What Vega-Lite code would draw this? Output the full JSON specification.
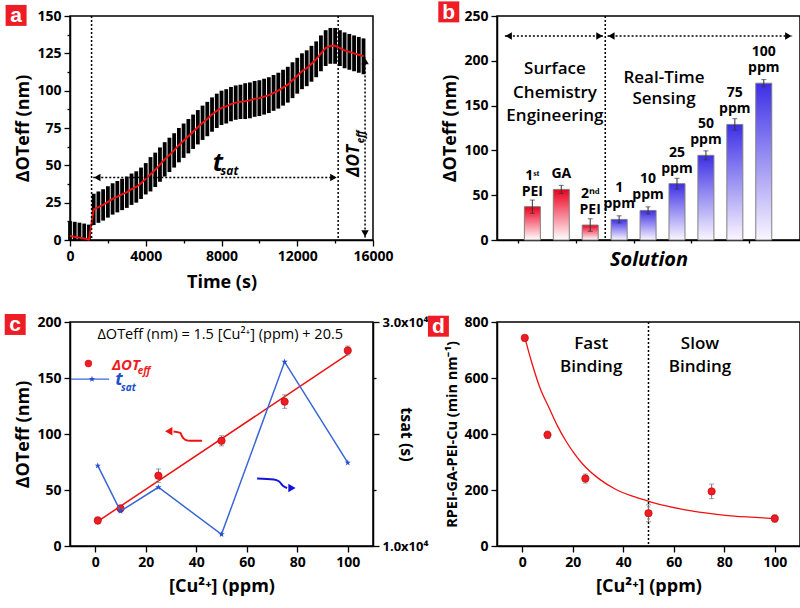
{
"$schema":"https://vega.github.io/schema/vega-lite/v6.json",
"background":"white",
"padding":{"left":3,"top":0,"right":0,"bottom":0},
"bounds":"flush",
"columns":2,
"spacing":{"row":82,"column":124},
"config":{
 "font":"Open Sans",
 "view":{"stroke":"black","strokeWidth":1.5},
 "axis":{"domainColor":"black","domainWidth":1.5,"tickColor":"black","tickWidth":1.3,"labelFont":"Open Sans","labelFontWeight":"bold","labelFontSize":14,"labelColor":"black","titleFont":"Open Sans","titleFontSize":18,"titleFontWeight":"bold","titleColor":"black","grid":false,"labelOverlap":false,"labelFlush":false,"labelPadding":3}
},
"datasets":{
 "aline":[
  {"t":0,"v":2.7,"lo":0,"hi":12.7},{"t":250,"v":2.2,"lo":0,"hi":12.2},{"t":500,"v":1.6,"lo":0,"hi":11.6},{"t":750,"v":1.0,"lo":0,"hi":11},{"t":1000,"v":0.3,"lo":0,"hi":10.3},
  {"t":1250,"v":20.5,"lo":10,"hi":31},{"t":1500,"v":22,"lo":11.5,"hi":32.5},{"t":1750,"v":23.5,"lo":13,"hi":34},{"t":2000,"v":25.5,"lo":15,"hi":36},{"t":2250,"v":27.5,"lo":17,"hi":38},{"t":2500,"v":29,"lo":18.5,"hi":39.5},{"t":2750,"v":30.5,"lo":20,"hi":41},{"t":3000,"v":32,"lo":21.5,"hi":42.5},{"t":3250,"v":34,"lo":23.5,"hi":44.5},{"t":3500,"v":35.5,"lo":25,"hi":46},{"t":3750,"v":38,"lo":27.5,"hi":48.5},{"t":4000,"v":41,"lo":30.5,"hi":51.5},
  {"t":4250,"v":44,"lo":32.5,"hi":55.5},{"t":4500,"v":47,"lo":35.5,"hi":58.5},{"t":4750,"v":50.5,"lo":39,"hi":62},{"t":5000,"v":54,"lo":42.5,"hi":65.5},{"t":5250,"v":57,"lo":45.5,"hi":68.5},{"t":5500,"v":60,"lo":48.5,"hi":71.5},{"t":5750,"v":63.5,"lo":52,"hi":75},{"t":6000,"v":66.5,"lo":55,"hi":78},{"t":6250,"v":69.5,"lo":58,"hi":81},{"t":6500,"v":72.5,"lo":61,"hi":84},{"t":6750,"v":75.5,"lo":64,"hi":87},{"t":7000,"v":78.5,"lo":67,"hi":90},{"t":7250,"v":81,"lo":69.5,"hi":92.5},{"t":7500,"v":84,"lo":72.5,"hi":95.5},{"t":7750,"v":86.5,"lo":75,"hi":98},{"t":8000,"v":88.5,"lo":77,"hi":100},{"t":8250,"v":89.5,"lo":78,"hi":101},{"t":8500,"v":91,"lo":79.5,"hi":102.5},{"t":8750,"v":92,"lo":80.5,"hi":103.5},{"t":9000,"v":92.5,"lo":81,"hi":104},
  {"t":9250,"v":93,"lo":81,"hi":105},{"t":9500,"v":93.5,"lo":81.5,"hi":105.5},{"t":9750,"v":94.5,"lo":82.5,"hi":106.5},{"t":10000,"v":95,"lo":83,"hi":107},{"t":10250,"v":96,"lo":84,"hi":108},{"t":10500,"v":97,"lo":85,"hi":109},{"t":10750,"v":98.5,"lo":86.5,"hi":110.5},{"t":11000,"v":100,"lo":88,"hi":112},{"t":11250,"v":102,"lo":90,"hi":114},{"t":11500,"v":104,"lo":92,"hi":116},{"t":11750,"v":107,"lo":95,"hi":119},{"t":12000,"v":110,"lo":98,"hi":122},{"t":12250,"v":113,"lo":101,"hi":125},{"t":12500,"v":115,"lo":103,"hi":127},{"t":12750,"v":118,"lo":106,"hi":130},{"t":13000,"v":121,"lo":109,"hi":133},{"t":13250,"v":125,"lo":113,"hi":137},{"t":13500,"v":128.5,"lo":116.5,"hi":140.5},{"t":13750,"v":130,"lo":118,"hi":142},{"t":14000,"v":130,"lo":118,"hi":142},{"t":14250,"v":128.5,"lo":116.5,"hi":140.5},{"t":14500,"v":127,"lo":115,"hi":139},{"t":14750,"v":126,"lo":114,"hi":138},{"t":15000,"v":125,"lo":113,"hi":137},{"t":15250,"v":124,"lo":112,"hi":136},{"t":15500,"v":123,"lo":111,"hi":135}
 ],
 "avl":[{"t":1140},{"t":14160}],
 "ahar":[{"t":1228,"t2":14120,"v":41.9}],
 "avar":[{"t":15580,"v":1.6,"v2":122.5}],
 "ahl":[{"t":1440,"v":41.9}],
 "ahr":[{"t":13910,"v":41.9}],
 "ahu":[{"t":15580,"v":119.8}],
 "ahd":[{"t":15580,"v":4.3}],
 "at1":[{"t":7807,"v":51.3,"s":"t"}],
 "at2":[{"t":8421,"v":46.3,"s":"sat"}],
 "ar1":[{"t":14990,"v":53,"s":"ΔOT"}],
 "ar2":[{"t":15390,"v":69,"s":"eff"}],
 "labA":[{"t":-2847,"v":150.4,"L":"a"}],
 "bbars":[
  {"x":1,"v":37.2,"e":7.4,"lab":"1ˢᵗ\nPEI","g":"s"},
  {"x":2,"v":56.5,"e":4.5,"lab":"GA","g":"s"},
  {"x":3,"v":16.7,"e":7,"lab":"2ⁿᵈ\nPEI","g":"s"},
  {"x":4,"v":23,"e":4,"lab":"1\nppm","g":"r"},
  {"x":5,"v":33,"e":4,"lab":"10\nppm","g":"r"},
  {"x":6,"v":62.9,"e":6,"lab":"25\nppm","g":"r"},
  {"x":7,"v":94.5,"e":5,"lab":"50\nppm","g":"r"},
  {"x":8,"v":129,"e":6.4,"lab":"75\nppm","g":"r"},
  {"x":9,"v":175,"e":4,"lab":"100\nppm","g":"r"}
 ],
 "bvl":[{"x":3.52}],
 "barr":[{"x":0.05,"x2":3.45,"v":227.7},{"x":3.6,"x2":9.98,"v":227.7}],
 "bhl":[{"x":0.18,"v":227.7},{"x":3.73,"v":227.7}],
 "bhr":[{"x":3.32,"v":227.7},{"x":9.85,"v":227.7}],
 "btxt":[{"x":1.78,"v":190.4,"s":"Surface"},{"x":1.78,"v":164.2,"s":"Chemistry"},{"x":1.78,"v":138.4,"s":"Engineering"},{"x":5.55,"v":181,"s":"Real-Time"},{"x":5.55,"v":157,"s":"Sensing"}],
 "labB":[{"x":-1.89,"v":254.6,"L":"b"}],
 "cred":[{"x":1,"v":22.8,"e":3},{"x":10,"v":33.5,"e":3},{"x":25,"v":62.8,"e":6},{"x":50,"v":93.9,"e":4.5},{"x":75,"v":128.9,"e":6},{"x":100,"v":174.5,"e":4}],
 "cfit":[{"x":1,"v":22},{"x":100,"v":171}],
 "cblue":[{"x":1,"ts":17170},{"x":10,"ts":13111},{"x":25,"ts":15244},{"x":50,"ts":11040},{"x":75,"ts":26444},{"x":100,"ts":17437}],
 "carrR":[{"x":42.3,"v":94},{"x":37.7,"v":94},{"x":35.7,"v":94.8},{"x":34.4,"v":97.8},{"x":33.7,"v":101},{"x":31,"v":102.3}],
 "cheadR":[{"x":29.1,"v":102.5}],
 "carrB":[{"x":64.1,"v":60.2},{"x":70.7,"v":59.3},{"x":72.7,"v":57.8},{"x":74.6,"v":53.3},{"x":76,"v":51.8}],
 "cheadB":[{"x":77.9,"v":51.8}],
 "ceq":[{"x":49.5,"v":188,"s":"ΔOTeff (nm) = 1.5 [Cu²⁺] (ppm) + 20.5"}],
 "clegP":[{"x":-2.7,"v":163}],
 "clegT1":[{"x":6.6,"v":162,"s":"ΔOT"}],
 "clegT2":[{"x":16.8,"v":156,"s":"eff"}],
 "clegL":[{"x":-9.6,"x2":5.5,"v":149}],
 "clegS":[{"x":-1.3,"v":149}],
 "clegB1":[{"x":7.9,"v":148.5,"s":"t"}],
 "clegB2":[{"x":10.2,"v":141,"s":"sat"}],
 "labC":[{"x":-31.7,"v":197.8,"L":"c"}],
 "dpts":[{"x":1,"v":743,"e":10},{"x":10,"v":397,"e":13},{"x":25,"v":241,"e":16},{"x":50,"v":117,"e":30},{"x":75,"v":195,"e":26},{"x":100,"v":98,"e":13}],
 "dfit":[{"x":1,"v":745},{"x":2.5,"v":695},{"x":4,"v":648},{"x":7,"v":565},{"x":10.7,"v":492},{"x":14,"v":428},{"x":17.3,"v":375},{"x":20.5,"v":332},{"x":24,"v":292},{"x":30.7,"v":238},{"x":37.3,"v":201},{"x":44,"v":177},{"x":50.7,"v":158},{"x":57,"v":143},{"x":64,"v":130},{"x":70,"v":121},{"x":77,"v":113},{"x":84,"v":107},{"x":90.7,"v":103},{"x":100,"v":98}],
 "dvl":[{"x":50}],
 "dtxt":[{"x":27.3,"v":723,"s":"Fast"},{"x":27.3,"v":640,"s":"Binding"},{"x":70.4,"v":723,"s":"Slow"},{"x":70.4,"v":640,"s":"Binding"}],
 "labD":[{"x":-33.2,"v":785,"L":"d"}]
},
"concat":[
 {
  "width":303,"height":224,
  "resolve":{"axis":{"x":"independent","y":"independent"}},
  "layer":[
   {"data":{"name":"aline"},"mark":{"type":"rule","color":"black","strokeWidth":3.8},
    "encoding":{
     "x":{"field":"t","type":"quantitative","title":"Time (s)","scale":{"domain":[0,16000],"nice":false,"zero":false},
      "axis":{"title":"Time (s)","labelOverlap":false,"values":[0,2000,4000,6000,8000,10000,12000,14000,16000],"format":"d","labelExpr":"datum.value % 4000 === 0 ? datum.label : ''","tickSize":{"condition":{"test":"datum.value % 4000 !== 0","value":3},"value":6},"titlePadding":10}},
     "y":{"field":"lo","type":"quantitative","title":"ΔOTeff (nm)","scale":{"domain":[0,150],"nice":false},
      "axis":{"title":"ΔOTeff (nm)","labelOverlap":false,"values":[0,12.5,25,37.5,50,62.5,75,87.5,100,112.5,125,137.5,150],"labelExpr":"datum.value % 25 === 0 ? format(datum.value, 'd') : ''","tickSize":{"condition":{"test":"datum.value % 25 !== 0","value":3},"value":6}}},
     "y2":{"field":"hi"}}},
   {"data":{"name":"aline"},"mark":{"type":"line","color":"#ee1111","strokeWidth":2},
    "encoding":{"x":{"field":"t","type":"quantitative","axis":null},"y":{"field":"v","type":"quantitative","axis":null}}},
   {"data":{"name":"avl"},"mark":{"type":"rule","color":"black","strokeWidth":1.5,"strokeDash":[2,2]},
    "encoding":{"x":{"field":"t","type":"quantitative","axis":null}}},
   {"data":{"name":"ahar"},"mark":{"type":"rule","color":"black","strokeWidth":1.5,"strokeDash":[2,2]},
    "encoding":{"x":{"field":"t","type":"quantitative","axis":null},"x2":{"field":"t2"},"y":{"field":"v","type":"quantitative","axis":null}}},
   {"data":{"name":"avar"},"mark":{"type":"rule","color":"black","strokeWidth":1.5,"strokeDash":[2,2]},
    "encoding":{"x":{"field":"t","type":"quantitative","axis":null},"y":{"field":"v","type":"quantitative","axis":null},"y2":{"field":"v2"}}},
   {"data":{"name":"ahl"},"mark":{"type":"point","shape":"triangle-left","filled":true,"color":"black","size":55,"opacity":1},
    "encoding":{"x":{"field":"t","type":"quantitative","axis":null},"y":{"field":"v","type":"quantitative","axis":null}}},
   {"data":{"name":"ahr"},"mark":{"type":"point","shape":"triangle-right","filled":true,"color":"black","size":55,"opacity":1},
    "encoding":{"x":{"field":"t","type":"quantitative","axis":null},"y":{"field":"v","type":"quantitative","axis":null}}},
   {"data":{"name":"ahu"},"mark":{"type":"point","shape":"triangle-up","filled":true,"color":"black","size":55,"opacity":1},
    "encoding":{"x":{"field":"t","type":"quantitative","axis":null},"y":{"field":"v","type":"quantitative","axis":null}}},
   {"data":{"name":"ahd"},"mark":{"type":"point","shape":"triangle-down","filled":true,"color":"black","size":55,"opacity":1},
    "encoding":{"x":{"field":"t","type":"quantitative","axis":null},"y":{"field":"v","type":"quantitative","axis":null}}},
   {"data":{"name":"at1"},"mark":{"type":"text","font":"Open Sans","fontSize":25,"fontWeight":"bold","fontStyle":"italic","color":"black","baseline":"middle","align":"center"},
    "encoding":{"x":{"field":"t","type":"quantitative","axis":null},"y":{"field":"v","type":"quantitative","axis":null},"text":{"field":"s"}}},
   {"data":{"name":"at2"},"mark":{"type":"text","font":"Open Sans","fontSize":12,"fontWeight":"bold","fontStyle":"italic","color":"black","baseline":"middle","align":"center"},
    "encoding":{"x":{"field":"t","type":"quantitative","axis":null},"y":{"field":"v","type":"quantitative","axis":null},"text":{"field":"s"}}},
   {"data":{"name":"ar1"},"mark":{"type":"text","font":"Open Sans","fontSize":17,"fontWeight":"bold","fontStyle":"italic","color":"black","baseline":"middle","align":"center","angle":270},
    "encoding":{"x":{"field":"t","type":"quantitative","axis":null},"y":{"field":"v","type":"quantitative","axis":null},"text":{"field":"s"}}},
   {"data":{"name":"ar2"},"mark":{"type":"text","font":"Open Sans","fontSize":10,"fontWeight":"bold","fontStyle":"italic","color":"black","baseline":"middle","align":"center","angle":270},
    "encoding":{"x":{"field":"t","type":"quantitative","axis":null},"y":{"field":"v","type":"quantitative","axis":null},"text":{"field":"s"}}},
   {"data":{"name":"labA"},"mark":{"type":"point","shape":"square","filled":true,"color":"#ee1c24","size":440,"opacity":1},
    "encoding":{"x":{"field":"t","type":"quantitative","axis":null},"y":{"field":"v","type":"quantitative","axis":null}}},
   {"data":{"name":"labA"},"mark":{"type":"text","font":"Liberation Sans","fontSize":21,"fontWeight":"bold","color":"white","baseline":"middle","align":"center","dy":1},
    "encoding":{"x":{"field":"t","type":"quantitative","axis":null},"y":{"field":"v","type":"quantitative","axis":null},"text":{"field":"L"}}}
  ]
 },
 {
  "width":303,"height":224,
  "layer":[
   {"data":{"name":"bbars"},"transform":[{"filter":"datum.g === 's'"}],
    "mark":{"type":"bar","width":16,"stroke":"#808080","strokeWidth":1,"fill":{"gradient":"linear","x1":0,"y1":0,"x2":0,"y2":1,"stops":[{"offset":0,"color":"#e8001c"},{"offset":0.35,"color":"#f45a70"},{"offset":1,"color":"#ffffff"}]}},
    "encoding":{
     "x":{"field":"x","type":"quantitative","title":"Solution","scale":{"domain":[-0.05,10.08],"nice":false,"zero":false},
      "axis":{"title":"Solution","titleFontStyle":"italic","titleFontSize":20,"titlePadding":6,"labels":false,"values":[0.5,1,1.5,2,2.5,3,3.5,4,4.5,5,5.5,6,6.5,7,7.5,8,8.5,9,9.5],"tickSize":{"condition":{"test":"datum.value % 1 !== 0","value":3},"value":6}}},
     "y":{"field":"v","type":"quantitative","title":"ΔOTeff (nm)","scale":{"domain":[0,250],"nice":false},
      "axis":{"title":"ΔOTeff (nm)","labelOverlap":false,"values":[0,25,50,75,100,125,150,175,200,225,250],"labelExpr":"datum.value % 50 === 0 ? format(datum.value, 'd') : ''","tickSize":{"condition":{"test":"datum.value % 50 !== 0","value":3},"value":6}}}}},
   {"data":{"name":"bbars"},"transform":[{"filter":"datum.g === 'r'"}],
    "mark":{"type":"bar","width":16,"stroke":"#808080","strokeWidth":1,"fill":{"gradient":"linear","x1":0,"y1":0,"x2":0,"y2":1,"stops":[{"offset":0,"color":"#3c2ee6"},{"offset":0.4,"color":"#8a80f0"},{"offset":1,"color":"#fbf6ff"}]}},
    "encoding":{"x":{"field":"x","type":"quantitative","title":"Solution"},"y":{"field":"v","type":"quantitative","title":"ΔOTeff (nm)"}}},
   {"data":{"name":"bbars"},"mark":{"type":"errorbar","ticks":true,"color":"#333333","thickness":1},
    "encoding":{"x":{"field":"x","type":"quantitative","title":"Solution"},"y":{"field":"v","type":"quantitative","title":"ΔOTeff (nm)"},"yError":{"field":"e"}}},
   {"data":{"name":"bbars"},"transform":[{"filter":"datum.x !== 2"}],"mark":{"type":"text","font":"Open Sans","fontSize":14,"fontWeight":"bold","color":"black","align":"center","baseline":"bottom","lineBreak":"\n","lineHeight":16,"dy":-24},
    "encoding":{"x":{"field":"x","type":"quantitative"},"y":{"field":"v","type":"quantitative"},"text":{"field":"lab"}}},
   {"data":{"name":"bbars"},"transform":[{"filter":"datum.x === 2"}],"mark":{"type":"text","font":"Open Sans","fontSize":14,"fontWeight":"bold","color":"black","align":"center","baseline":"bottom","dy":-8},
    "encoding":{"x":{"field":"x","type":"quantitative"},"y":{"field":"v","type":"quantitative"},"text":{"field":"lab"}}},
   {"data":{"name":"bvl"},"mark":{"type":"rule","color":"black","strokeWidth":1.5,"strokeDash":[2,2]},
    "encoding":{"x":{"field":"x","type":"quantitative"}}},
   {"data":{"name":"barr"},"mark":{"type":"rule","color":"black","strokeWidth":1.5,"strokeDash":[2,2]},
    "encoding":{"x":{"field":"x","type":"quantitative"},"x2":{"field":"x2"},"y":{"field":"v","type":"quantitative"}}},
   {"data":{"name":"bhl"},"mark":{"type":"point","shape":"triangle-left","filled":true,"color":"black","size":55,"opacity":1},
    "encoding":{"x":{"field":"x","type":"quantitative"},"y":{"field":"v","type":"quantitative"}}},
   {"data":{"name":"bhr"},"mark":{"type":"point","shape":"triangle-right","filled":true,"color":"black","size":55,"opacity":1},
    "encoding":{"x":{"field":"x","type":"quantitative"},"y":{"field":"v","type":"quantitative"}}},
   {"data":{"name":"btxt"},"mark":{"type":"text","font":"Open Sans","fontSize":17,"fontWeight":600,"color":"black","align":"center","baseline":"middle"},
    "encoding":{"x":{"field":"x","type":"quantitative"},"y":{"field":"v","type":"quantitative"},"text":{"field":"s"}}},
   {"data":{"name":"labB"},"mark":{"type":"point","shape":"square","filled":true,"color":"#ee1c24","size":440,"opacity":1},
    "encoding":{"x":{"field":"x","type":"quantitative"},"y":{"field":"v","type":"quantitative"}}},
   {"data":{"name":"labB"},"mark":{"type":"text","font":"Liberation Sans","fontSize":21,"fontWeight":"bold","color":"white","baseline":"middle","align":"center","dy":1},
    "encoding":{"x":{"field":"x","type":"quantitative"},"y":{"field":"v","type":"quantitative"},"text":{"field":"L"}}}
  ]
 },
 {
  "width":303,"height":224,
  "layer":[
   {"layer":[
    {"data":{"name":"cfit"},"mark":{"type":"line","color":"#ee1111","strokeWidth":1.5},
     "encoding":{
      "x":{"field":"x","type":"quantitative","title":"[Cu²⁺] (ppm)","scale":{"domain":[-10,110],"nice":false,"zero":false},
       "axis":{"title":"[Cu²⁺] (ppm)","labelOverlap":false,"values":[0,10,20,30,40,50,60,70,80,90,100],"labelExpr":"datum.value % 20 === 0 ? datum.label : ''","tickSize":{"condition":{"test":"datum.value % 20 !== 0","value":3},"value":6},"titlePadding":8}},
      "y":{"field":"v","type":"quantitative","title":"ΔOTeff (nm)","scale":{"domain":[0,200],"nice":false},
       "axis":{"title":"ΔOTeff (nm)","labelOverlap":false,"values":[0,25,50,75,100,125,150,175,200],"labelExpr":"datum.value % 50 === 0 ? format(datum.value, 'd') : ''","tickSize":{"condition":{"test":"datum.value % 50 !== 0","value":3},"value":6}}}}},
    {"data":{"name":"cred"},"mark":{"type":"errorbar","ticks":true,"color":"#777777","thickness":1},
     "encoding":{"x":{"field":"x","type":"quantitative","title":"[Cu²⁺] (ppm)"},"y":{"field":"v","type":"quantitative","title":"ΔOTeff (nm)"},"yError":{"field":"e"}}},
    {"data":{"name":"cred"},"mark":{"type":"point","shape":"circle","filled":true,"color":"#ee1c24","stroke":"#c00000","strokeWidth":0.6,"size":55,"opacity":1},
     "encoding":{"x":{"field":"x","type":"quantitative"},"y":{"field":"v","type":"quantitative"}}},
    {"data":{"name":"ceq"},"mark":{"type":"text","font":"Open Sans","fontSize":14.5,"color":"black","align":"center","baseline":"middle"},
     "encoding":{"x":{"field":"x","type":"quantitative"},"y":{"field":"v","type":"quantitative"},"text":{"field":"s"}}},
    {"data":{"name":"clegP"},"mark":{"type":"point","shape":"circle","filled":true,"color":"#ee1c24","size":55,"opacity":1},
     "encoding":{"x":{"field":"x","type":"quantitative"},"y":{"field":"v","type":"quantitative"}}},
    {"data":{"name":"clegT1"},"mark":{"type":"text","font":"Open Sans","fontSize":15,"fontWeight":"bold","fontStyle":"italic","color":"#ee1c24","align":"left","baseline":"middle"},
     "encoding":{"x":{"field":"x","type":"quantitative"},"y":{"field":"v","type":"quantitative"},"text":{"field":"s"}}},
    {"data":{"name":"clegT2"},"mark":{"type":"text","font":"Open Sans","fontSize":10,"fontWeight":"bold","fontStyle":"italic","color":"#ee1c24","align":"left","baseline":"middle"},
     "encoding":{"x":{"field":"x","type":"quantitative"},"y":{"field":"v","type":"quantitative"},"text":{"field":"s"}}},
    {"data":{"name":"clegL"},"mark":{"type":"rule","color":"#3a66d6","strokeWidth":1.3},
     "encoding":{"x":{"field":"x","type":"quantitative"},"x2":{"field":"x2"},"y":{"field":"v","type":"quantitative"}}},
    {"data":{"name":"clegS"},"mark":{"type":"point","shape":"M0,-1L0.2245,-0.309L0.9511,-0.309L0.3633,0.118L0.5878,0.809L0,0.382L-0.5878,0.809L-0.3633,0.118L-0.9511,-0.309L-0.2245,-0.309Z","filled":true,"color":"#2050d0","size":45,"opacity":1},
     "encoding":{"x":{"field":"x","type":"quantitative"},"y":{"field":"v","type":"quantitative"}}},
    {"data":{"name":"clegB1"},"mark":{"type":"text","font":"Open Sans","fontSize":18,"fontWeight":"bold","fontStyle":"italic","color":"#2050d0","align":"left","baseline":"middle"},
     "encoding":{"x":{"field":"x","type":"quantitative"},"y":{"field":"v","type":"quantitative"},"text":{"field":"s"}}},
    {"data":{"name":"clegB2"},"mark":{"type":"text","font":"Open Sans","fontSize":10,"fontWeight":"bold","fontStyle":"italic","color":"#2050d0","align":"left","baseline":"middle"},
     "encoding":{"x":{"field":"x","type":"quantitative"},"y":{"field":"v","type":"quantitative"},"text":{"field":"s"}}},
    {"data":{"name":"carrR"},"mark":{"type":"line","color":"#ee1111","strokeWidth":2,"interpolate":"monotone"},
     "encoding":{"x":{"field":"x","type":"quantitative"},"y":{"field":"v","type":"quantitative"}}},
    {"data":{"name":"cheadR"},"mark":{"type":"point","shape":"triangle-left","filled":true,"color":"#ee1111","size":70,"opacity":1},
     "encoding":{"x":{"field":"x","type":"quantitative"},"y":{"field":"v","type":"quantitative"}}},
    {"data":{"name":"carrB"},"mark":{"type":"line","color":"#1414d8","strokeWidth":2,"interpolate":"monotone"},
     "encoding":{"x":{"field":"x","type":"quantitative"},"y":{"field":"v","type":"quantitative"}}},
    {"data":{"name":"cheadB"},"mark":{"type":"point","shape":"triangle-right","filled":true,"color":"#1414d8","size":70,"opacity":1},
     "encoding":{"x":{"field":"x","type":"quantitative"},"y":{"field":"v","type":"quantitative"}}},
    {"data":{"name":"labC"},"mark":{"type":"point","shape":"square","filled":true,"color":"#ee1c24","size":440,"opacity":1},
     "encoding":{"x":{"field":"x","type":"quantitative"},"y":{"field":"v","type":"quantitative"}}},
    {"data":{"name":"labC"},"mark":{"type":"text","font":"Liberation Sans","fontSize":21,"fontWeight":"bold","color":"white","baseline":"middle","align":"center","dy":1},
     "encoding":{"x":{"field":"x","type":"quantitative"},"y":{"field":"v","type":"quantitative"},"text":{"field":"L"}}}
   ]},
   {"layer":[
    {"data":{"name":"cblue"},"mark":{"type":"line","color":"#3a66d6","strokeWidth":1.5},
     "encoding":{"x":{"field":"x","type":"quantitative"},
      "y":{"field":"ts","type":"quantitative","title":"tsat (s)","scale":{"domain":[10000,30000],"nice":false,"zero":false},
       "axis":{"orient":"right","title":"tsat (s)","labelOverlap":false,"labelFontSize":13,"titleFontSize":16,"titleX":32,"titleY":112,"titleAlign":"center","titleBaseline":"middle","titleAngle":90,"values":[10000,15000,20000,25000,30000],"labelExpr":"datum.value === 30000 ? '3.0x10⁴' : (datum.value === 10000 ? '1.0x10⁴' : '')","tickSize":{"condition":{"test":"datum.value % 10000 !== 0","value":3},"value":6}}}}},
    {"data":{"name":"cblue"},"mark":{"type":"point","shape":"M0,-1L0.2245,-0.309L0.9511,-0.309L0.3633,0.118L0.5878,0.809L0,0.382L-0.5878,0.809L-0.3633,0.118L-0.9511,-0.309L-0.2245,-0.309Z","filled":true,"color":"#2050d0","size":45,"opacity":1},
     "encoding":{"x":{"field":"x","type":"quantitative"},"y":{"field":"ts","type":"quantitative","title":"tsat (s)"}}}
   ]}
  ],
  "resolve":{"scale":{"y":"independent"}}
 },
 {
  "width":303,"height":224,
  "layer":[
   {"data":{"name":"dvl"},"mark":{"type":"rule","color":"black","strokeWidth":1.5,"strokeDash":[2,2]},
    "encoding":{
     "x":{"field":"x","type":"quantitative","title":"[Cu²⁺] (ppm)","scale":{"domain":[-10,110],"nice":false,"zero":false},
      "axis":{"title":"[Cu²⁺] (ppm)","labelOverlap":false,"values":[0,10,20,30,40,50,60,70,80,90,100],"labelExpr":"datum.value % 20 === 0 ? datum.label : ''","tickSize":{"condition":{"test":"datum.value % 20 !== 0","value":3},"value":6},"titlePadding":8}}}},
   {"data":{"name":"dfit"},"mark":{"type":"line","color":"#ee1111","strokeWidth":1.3,"interpolate":"monotone"},
    "encoding":{"x":{"field":"x","type":"quantitative","title":"[Cu²⁺] (ppm)"},
     "y":{"field":"v","type":"quantitative","title":"RPEI-GA-PEI-Cu (min nm⁻¹)","scale":{"domain":[0,800],"nice":false},
      "axis":{"title":"RPEI-GA-PEI-Cu (min nm⁻¹)","labelOverlap":false,"titleFontSize":14.5,"values":[0,100,200,300,400,500,600,700,800],"labelExpr":"datum.value % 200 === 0 ? format(datum.value, 'd') : ''","tickSize":{"condition":{"test":"datum.value % 200 !== 0","value":3},"value":6}}}}},
   {"data":{"name":"dpts"},"mark":{"type":"errorbar","ticks":true,"color":"#777777","thickness":1},
    "encoding":{"x":{"field":"x","type":"quantitative","title":"[Cu²⁺] (ppm)"},"y":{"field":"v","type":"quantitative","title":"RPEI-GA-PEI-Cu (min nm⁻¹)"},"yError":{"field":"e"}}},
   {"data":{"name":"dpts"},"mark":{"type":"point","shape":"circle","filled":true,"color":"#ee1c24","stroke":"#c00000","strokeWidth":0.6,"size":55,"opacity":1},
    "encoding":{"x":{"field":"x","type":"quantitative"},"y":{"field":"v","type":"quantitative"}}},
   {"data":{"name":"dtxt"},"mark":{"type":"text","font":"Open Sans","fontSize":17,"fontWeight":600,"color":"black","align":"center","baseline":"middle"},
    "encoding":{"x":{"field":"x","type":"quantitative"},"y":{"field":"v","type":"quantitative"},"text":{"field":"s"}}},
   {"data":{"name":"labD"},"mark":{"type":"point","shape":"square","filled":true,"color":"#ee1c24","size":440,"opacity":1},
    "encoding":{"x":{"field":"x","type":"quantitative"},"y":{"field":"v","type":"quantitative"}}},
   {"data":{"name":"labD"},"mark":{"type":"text","font":"Liberation Sans","fontSize":21,"fontWeight":"bold","color":"white","baseline":"middle","align":"center","dy":1},
    "encoding":{"x":{"field":"x","type":"quantitative"},"y":{"field":"v","type":"quantitative"},"text":{"field":"L"}}}
  ]
 }
]
}
